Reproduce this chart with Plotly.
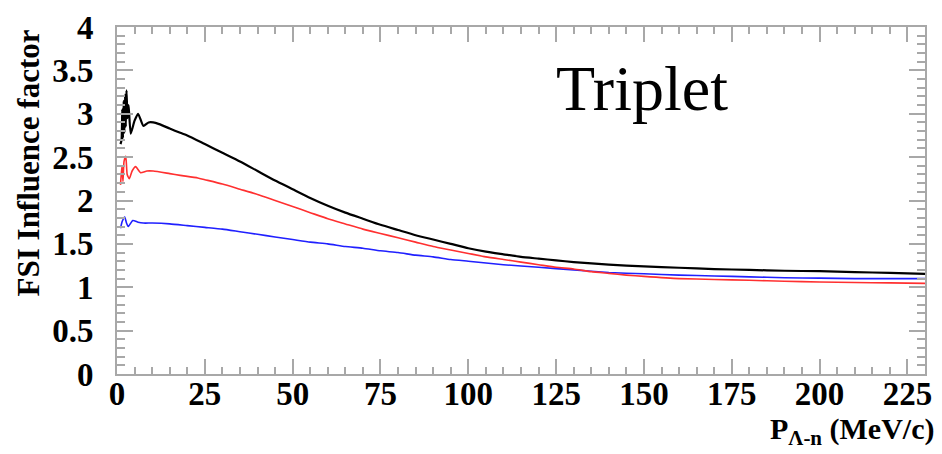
import plotly.graph_objects as go

# ---- data ----
black_x = [1.0, 1.3, 1.5, 1.7, 1.9, 2.1, 2.3, 2.5, 2.7, 3.0, 3.3, 3.9, 5.0, 6.0, 7.5, 9.0, 10.3,
           12, 15, 18, 20, 25, 30, 35, 40, 45, 50, 55, 60, 65, 70, 75, 80, 85, 90, 95, 100,
           105, 110, 115, 120, 125, 130, 140, 150, 160, 170, 180, 190, 200, 210, 220, 230]
black_y = [2.65, 2.70, 3.05, 2.72, 3.15, 2.78, 3.22, 2.85, 3.27, 2.95, 3.10, 2.77, 2.92, 3.00, 2.86, 2.90, 2.90,
           2.88, 2.83, 2.78, 2.75, 2.65, 2.55, 2.45, 2.34, 2.23, 2.13, 2.03, 1.94, 1.86, 1.79, 1.72, 1.66, 1.60, 1.55, 1.50, 1.45,
           1.41, 1.38, 1.35, 1.33, 1.31, 1.29, 1.26, 1.24, 1.225, 1.21, 1.20, 1.19, 1.185, 1.175, 1.165, 1.155]

red_x = [1.0, 1.4, 1.7, 2.0, 2.5, 2.9, 3.5, 4.3, 5.3, 6.7, 8.5, 10.3, 15, 18, 23, 25, 30, 35, 40, 45, 50,
         55, 60, 65, 70, 75, 80, 85, 90, 95, 100, 105, 110, 115, 120, 125, 130, 135, 140, 145, 150,
         160, 170, 180, 190, 200, 210, 220, 230]
red_y = [2.18, 2.40, 2.22, 2.45, 2.51, 2.30, 2.25, 2.34, 2.39, 2.32, 2.34, 2.34, 2.31, 2.29, 2.26, 2.24, 2.19, 2.13, 2.07, 2.00, 1.93,
         1.86, 1.79, 1.73, 1.67, 1.62, 1.57, 1.52, 1.47, 1.43, 1.39, 1.35, 1.32, 1.29, 1.26, 1.23, 1.21, 1.18, 1.16, 1.14, 1.125,
         1.10, 1.09, 1.08, 1.07, 1.06, 1.055, 1.05, 1.045]

blue_x = [1.0, 1.5, 2.2, 2.7, 3.2, 4.5, 6.0, 7.5, 10, 15, 20, 25, 30, 35, 40, 45, 50, 55, 60, 65, 70,
          75, 80, 85, 90, 95, 100, 110, 120, 130, 140, 150, 160, 170, 180, 190, 200, 210, 220, 230]
blue_y = [1.68, 1.76, 1.81, 1.74, 1.70, 1.77, 1.75, 1.74, 1.74, 1.73, 1.71, 1.69, 1.67, 1.64, 1.61, 1.58, 1.55, 1.52, 1.50, 1.47, 1.45,
          1.42, 1.40, 1.37, 1.35, 1.32, 1.30, 1.26, 1.23, 1.20, 1.17, 1.155, 1.14, 1.13, 1.12, 1.11, 1.105, 1.10, 1.10, 1.10]

x_ticks = [0, 25, 50, 75, 100, 125, 150, 175, 200, 225]
y_ticks = [0, 0.5, 1, 1.5, 2, 2.5, 3, 3.5, 4]

FONT = "Liberation Serif"
AXIS_COL = "#a8a8a8"

fig = go.Figure()
fig.add_trace(go.Scatter(x=blue_x, y=blue_y, mode="lines",
                         line=dict(color="#2020ff", width=1.6, shape="spline", smoothing=0.5)))
fig.add_trace(go.Scatter(x=red_x, y=red_y, mode="lines",
                         line=dict(color="#ff3030", width=1.6, shape="spline", smoothing=0.5)))
fig.add_trace(go.Scatter(x=black_x, y=black_y, mode="lines",
                         line=dict(color="black", width=2.2, shape="spline", smoothing=0.5)))

axis_common = dict(
    showgrid=False, zeroline=False, showline=True, linecolor=AXIS_COL, linewidth=2,
    mirror="allticks", ticks="inside", tickcolor=AXIS_COL, tickwidth=1.5,
    tickfont=dict(family=FONT, size=33, color="black", weight="bold"),
)

fig.update_xaxes(range=[0, 230], tickvals=x_ticks, ticktext=[str(v) for v in x_ticks],
                 ticklen=15, ticklabelstandoff=-11,
                 minor=dict(dtick=5, ticks="inside", ticklen=7, tickcolor=AXIS_COL, tickwidth=1.5),
                 **axis_common)
fig.update_yaxes(range=[0, 4], tickvals=y_ticks, ticktext=[f"{v:g}" for v in y_ticks],
                 ticklen=16, ticklabelstandoff=15,
                 minor=dict(dtick=0.1, ticks="inside", ticklen=8, tickcolor=AXIS_COL, tickwidth=1.5),
                 **axis_common)

fig.add_annotation(text="<b>FSI Influence factor</b>", textangle=-90, xref="paper", yref="paper",
                   x=-0.109, y=1.0, xanchor="center", yanchor="top", showarrow=False,
                   font=dict(family=FONT, size=31, color="black"))
fig.add_annotation(text="<b>P<sub>Λ-n</sub> (MeV/c)</b>", xref="paper", yref="paper",
                   x=1.013, y=-0.222, xanchor="right", yanchor="bottom", showarrow=False,
                   borderpad=0, font=dict(family=FONT, size=30, color="black"))
fig.add_annotation(text="Triplet", xref="paper", yref="paper", x=0.65, y=0.823,
                   xanchor="center", yanchor="middle", showarrow=False,
                   font=dict(family=FONT, size=64, color="black"))

fig.update_layout(width=942, height=454, margin=dict(l=117, r=10, t=23, b=80),
                  plot_bgcolor="white", paper_bgcolor="white", showlegend=False)

fig.write_html("out.html")
